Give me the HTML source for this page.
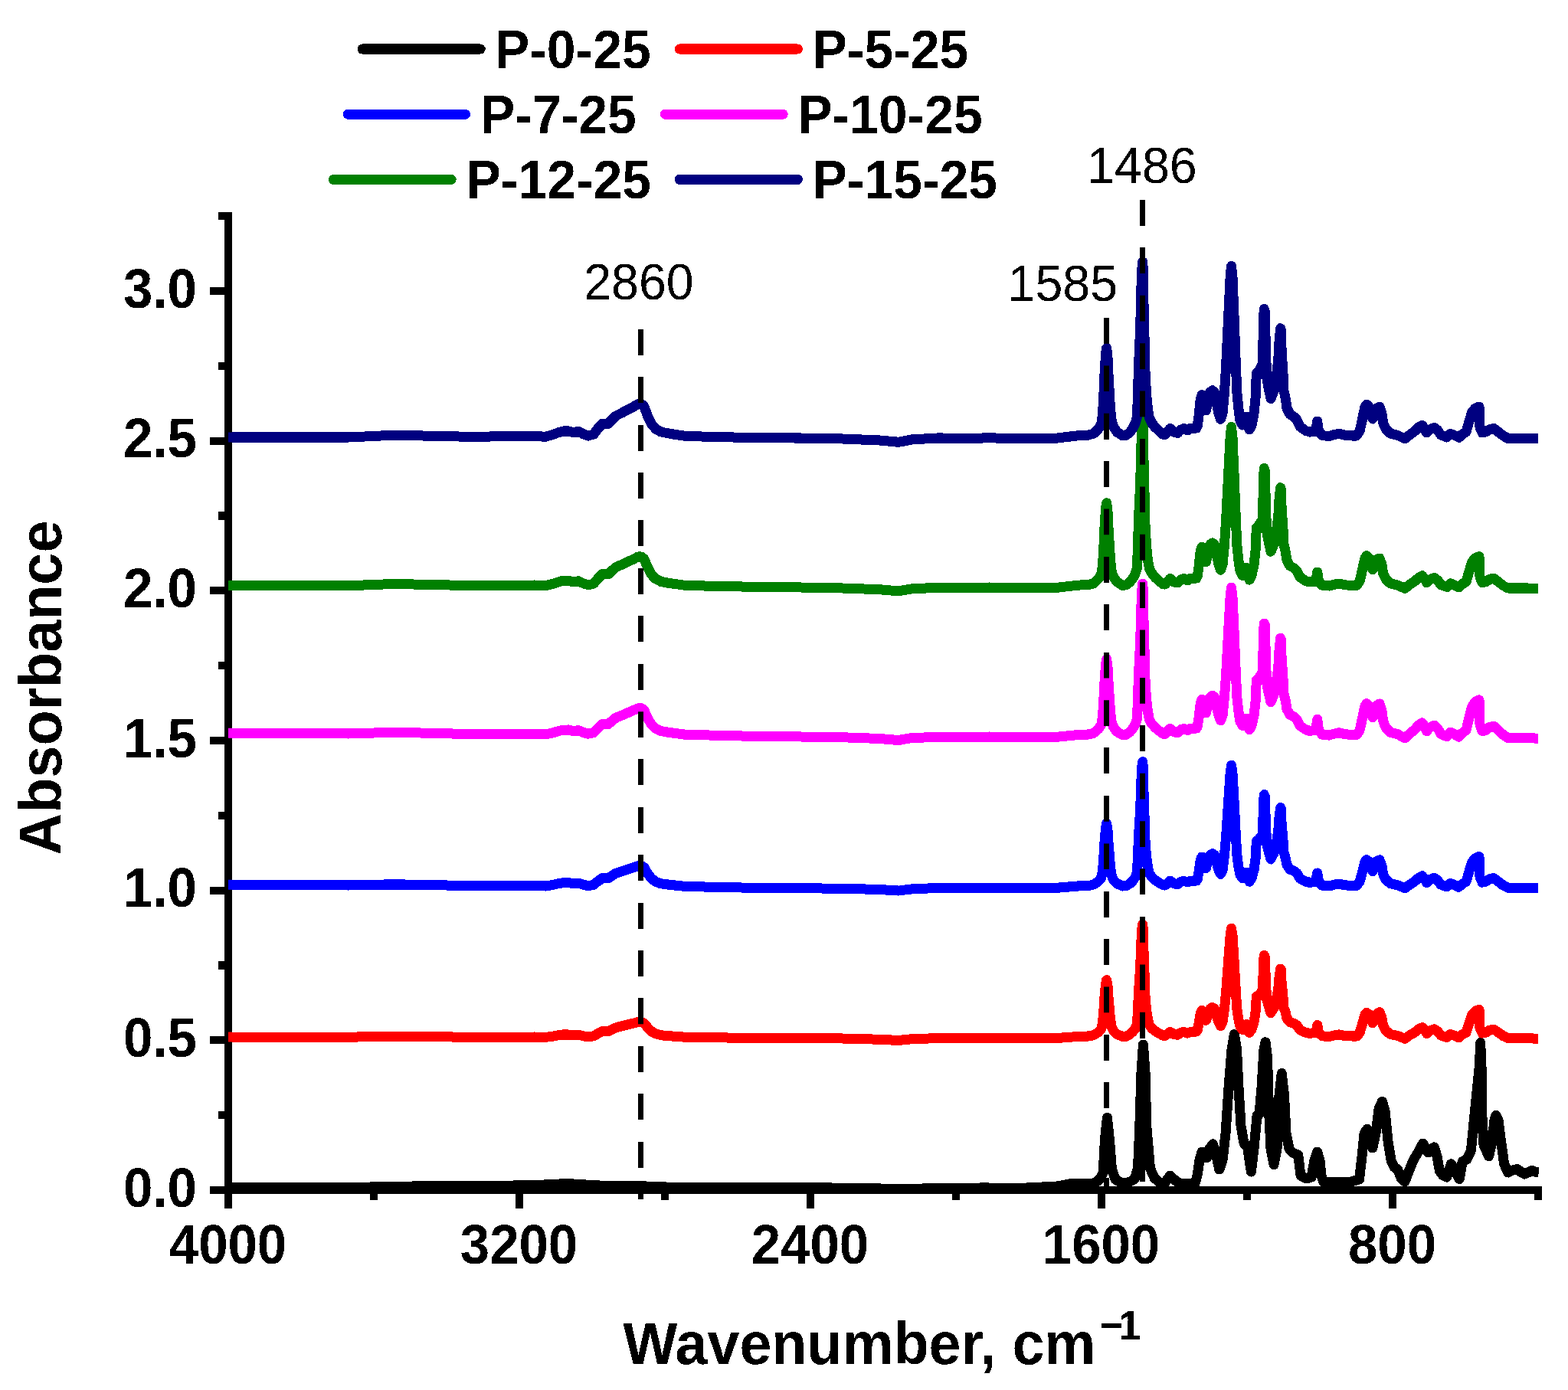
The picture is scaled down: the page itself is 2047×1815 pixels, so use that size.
<!DOCTYPE html>
<html><head><meta charset="utf-8"><title>FTIR spectra</title>
<style>html,body{margin:0;padding:0;background:#fff;}svg{display:block;}</style>
</head><body>
<svg width="2047" height="1815" viewBox="0 0 2047 1815">
<rect width="2047" height="1815" fill="#fff"/>
<defs><filter id="bin" x="0" y="0" width="2047" height="1815" filterUnits="userSpaceOnUse"><feComponentTransfer><feFuncA type="discrete" tableValues="0 1"/></feComponentTransfer></filter></defs>
<g filter="url(#bin)">
<g fill="#000">
<rect x="293" y="277" width="10" height="1301"/>
<rect x="293" y="1549" width="1720" height="10"/>
<rect x="274" y="1549.0" width="20" height="10"/>
<rect x="274" y="1353.3" width="20" height="10"/>
<rect x="274" y="1157.7" width="20" height="10"/>
<rect x="274" y="962.0" width="20" height="10"/>
<rect x="274" y="766.3" width="20" height="10"/>
<rect x="274" y="570.7" width="20" height="10"/>
<rect x="274" y="375.0" width="20" height="10"/>
<rect x="285" y="1451.2" width="9" height="10"/>
<rect x="285" y="1255.5" width="9" height="10"/>
<rect x="285" y="1059.8" width="9" height="10"/>
<rect x="285" y="864.2" width="9" height="10"/>
<rect x="285" y="668.5" width="9" height="10"/>
<rect x="285" y="472.8" width="9" height="10"/>
<rect x="285" y="277.2" width="9" height="10"/>
<rect x="293.0" y="1558" width="10" height="20"/>
<rect x="673.0" y="1558" width="10" height="20"/>
<rect x="1053.0" y="1558" width="10" height="20"/>
<rect x="1433.0" y="1558" width="10" height="20"/>
<rect x="1813.0" y="1558" width="10" height="20"/>
<rect x="483.0" y="1558" width="10" height="9"/>
<rect x="863.0" y="1558" width="10" height="9"/>
<rect x="1243.0" y="1558" width="10" height="9"/>
<rect x="1623.0" y="1558" width="10" height="9"/>
<rect x="2003.0" y="1558" width="10" height="9"/>
</g>
<g fill="none" stroke-width="13" stroke-linejoin="round" stroke-linecap="butt">
<polyline stroke="#000" points="298.0,1550.5 460.0,1550.5 560.0,1548.5 640.0,1548.5 700.0,1547.5 741.0,1545.5 780.0,1548.0 830.0,1548.5 890.0,1550.8 1070.0,1550.8 1150.0,1552.0 1172.0,1553.0 1220.0,1551.5 1280.0,1551.0 1330.0,1551.5 1380.0,1549.0 1400.0,1545.0 1410.0,1546.0 1425.0,1546.0 1432.0,1543.0 1437.0,1538.0 1440.2,1530.4 1442.5,1486.6 1445.4,1459.4 1448.3,1486.6 1451.4,1525.7 1456.0,1540.0 1465.8,1545.5 1475.0,1543.0 1481.0,1540.0 1485.5,1525.7 1487.8,1470.9 1490.0,1400.0 1492.4,1363.9 1495.0,1400.0 1496.8,1470.9 1501.5,1525.7 1507.0,1538.0 1515.0,1545.0 1521.0,1544.0 1527.6,1535.3 1534.0,1541.0 1540.0,1545.5 1560.0,1545.5 1563.0,1535.0 1566.0,1515.0 1569.0,1504.0 1572.0,1508.0 1575.3,1512.0 1579.0,1500.0 1583.2,1493.8 1587.0,1505.0 1591.8,1527.0 1596.0,1515.0 1600.0,1480.0 1604.0,1420.0 1608.0,1370.0 1611.4,1350.6 1614.5,1370.0 1617.0,1420.0 1620.0,1470.0 1624.0,1493.0 1628.6,1498.0 1633.3,1530.0 1637.0,1500.0 1641.0,1457.0 1644.0,1455.0 1647.0,1420.0 1650.0,1370.0 1652.0,1360.8 1654.5,1380.0 1656.5,1450.0 1659.0,1500.0 1663.0,1520.8 1667.0,1500.0 1670.0,1430.0 1673.2,1401.5 1676.5,1430.0 1679.0,1480.0 1683.0,1500.0 1688.0,1505.5 1694.7,1508.0 1698.0,1535.0 1705.7,1539.0 1712.0,1537.0 1716.0,1515.0 1719.7,1504.0 1723.0,1515.0 1725.0,1535.0 1727.6,1543.0 1740.0,1544.0 1760.0,1544.0 1774.5,1540.0 1778.0,1510.0 1781.0,1480.0 1784.7,1474.3 1788.0,1480.0 1791.8,1499.0 1796.0,1480.0 1800.0,1448.0 1804.3,1438.3 1808.0,1450.0 1812.0,1490.0 1816.0,1515.0 1820.0,1524.0 1824.6,1527.0 1829.0,1538.0 1834.0,1543.0 1839.0,1530.0 1845.0,1515.0 1851.0,1505.0 1857.5,1493.0 1861.0,1500.0 1864.6,1505.0 1868.0,1500.0 1872.4,1497.8 1876.0,1510.0 1879.4,1529.0 1884.0,1535.0 1888.8,1537.0 1894.3,1519.7 1900.0,1530.0 1905.3,1539.5 1909.2,1516.5 1915.0,1514.0 1920.4,1502.2 1926.6,1439.6 1931.3,1392.6 1932.7,1361.5 1934.0,1392.6 1934.8,1455.0 1937.0,1495.0 1943.6,1509.8 1948.0,1490.0 1951.0,1462.0 1953.0,1456.3 1956.0,1462.0 1959.0,1486.6 1963.7,1520.0 1968.7,1531.0 1975.0,1528.0 1981.0,1526.5 1985.0,1530.0 1990.5,1533.0 1996.0,1530.5 2000.0,1528.0 2004.0,1530.0 2008.8,1530.5"/>
<polyline stroke="#FF0000" points="298.0,1354.1 455.0,1354.3 513.0,1353.1 611.0,1354.2 698.0,1354.1 712.0,1354.4 722.0,1353.1 728.4,1351.9 735.0,1351.0 741.4,1350.9 748.0,1351.7 755.3,1351.3 762.0,1352.9 768.0,1353.9 775.0,1352.9 781.0,1349.2 786.6,1346.4 794.0,1346.6 800.0,1343.6 804.0,1341.7 812.0,1339.8 820.0,1337.8 828.0,1335.9 833.0,1334.5 837.5,1334.5 841.0,1336.1 845.0,1341.3 850.0,1346.5 856.0,1349.8 863.0,1351.7 874.0,1352.7 895.0,1354.2 968.0,1355.2 1046.0,1355.6 1100.0,1356.1 1149.0,1357.2 1172.6,1358.5 1190.0,1356.7 1227.0,1355.4 1245.0,1356.1 1292.0,1355.4 1331.0,1356.1 1380.0,1355.5 1410.0,1353.3 1420.0,1353.1 1428.0,1351.6 1434.0,1347.8 1437.5,1343.9 1438.5,1340.7 1439.5,1334.2 1440.6,1323.9 1441.6,1306.5 1442.6,1294.2 1443.6,1284.5 1444.5,1279.7 1445.2,1282.2 1446.3,1289.7 1447.3,1307.1 1448.2,1315.1 1449.4,1329.6 1450.6,1337.4 1451.3,1341.3 1453.3,1345.5 1458.0,1350.3 1465.7,1353.5 1470.0,1353.2 1475.0,1350.6 1479.0,1347.0 1482.0,1343.2 1484.6,1337.2 1485.3,1319.4 1486.4,1298.0 1487.6,1275.7 1488.5,1267.7 1489.4,1241.9 1490.5,1215.1 1491.6,1206.9 1492.6,1215.1 1493.0,1241.9 1494.1,1273.1 1495.1,1302.5 1496.8,1320.3 1498.5,1331.0 1500.3,1338.0 1503.5,1342.5 1508.0,1346.4 1514.0,1349.9 1518.0,1352.2 1521.0,1352.5 1527.5,1347.3 1533.0,1350.6 1537.5,1351.2 1541.5,1348.3 1545.5,1347.4 1550.2,1349.0 1554.0,1347.4 1558.0,1347.0 1562.0,1347.0 1563.3,1345.1 1565.4,1334.9 1566.4,1327.2 1567.5,1322.1 1569.0,1319.3 1571.0,1322.1 1574.5,1332.3 1577.5,1322.1 1580.0,1317.0 1582.7,1315.5 1585.5,1317.0 1588.0,1325.3 1591.0,1334.9 1593.5,1339.6 1596.0,1334.9 1598.4,1317.7 1600.5,1296.7 1603.7,1253.4 1606.1,1221.5 1607.5,1212.2 1609.0,1221.5 1611.0,1253.3 1613.3,1293.5 1614.8,1317.1 1617.0,1331.7 1619.0,1340.6 1622.0,1344.5 1627.0,1337.4 1631.0,1348.3 1634.0,1344.4 1637.0,1334.8 1639.0,1322.0 1640.0,1306.0 1640.5,1301.1 1643.0,1299.6 1648.5,1293.1 1649.0,1273.9 1649.6,1254.7 1650.3,1247.4 1651.4,1249.7 1651.9,1267.6 1652.9,1290.1 1653.4,1303.5 1656.0,1313.2 1659.0,1322.7 1663.0,1316.1 1667.4,1299.2 1668.9,1289.7 1670.0,1276.2 1671.0,1269.4 1671.6,1265.1 1672.5,1266.9 1672.8,1278.8 1673.8,1289.6 1675.3,1304.8 1675.8,1315.2 1677.4,1319.5 1678.4,1322.6 1680.0,1329.8 1684.0,1334.7 1689.0,1336.3 1693.0,1338.8 1697.0,1344.8 1704.8,1348.5 1710.0,1349.4 1717.5,1348.5 1718.8,1343.2 1719.7,1338.5 1720.6,1343.1 1721.5,1348.5 1726.0,1352.7 1735.0,1353.5 1742.0,1351.9 1748.0,1351.0 1755.0,1352.3 1765.0,1353.1 1771.0,1353.1 1775.0,1348.6 1778.0,1338.8 1780.0,1331.4 1782.0,1324.7 1784.0,1322.4 1787.0,1324.1 1790.0,1331.3 1792.0,1335.8 1794.0,1330.0 1797.0,1324.0 1801.0,1321.6 1804.0,1329.0 1805.6,1338.9 1809.0,1345.5 1815.0,1350.4 1825.0,1352.5 1834.0,1356.2 1840.0,1352.0 1847.0,1347.9 1852.0,1343.7 1856.7,1341.6 1860.0,1345.3 1862.5,1349.5 1866.0,1346.1 1872.4,1343.9 1877.0,1346.8 1881.0,1351.9 1888.8,1354.5 1893.5,1350.4 1898.0,1351.9 1904.5,1354.7 1909.0,1350.9 1914.0,1348.2 1918.0,1335.7 1921.7,1324.9 1926.0,1320.3 1931.0,1318.3 1931.5,1330.9 1932.0,1342.7 1935.0,1349.0 1940.0,1348.1 1944.0,1345.4 1950.0,1344.0 1956.0,1348.1 1962.4,1352.6 1968.7,1355.8 1980.0,1355.8 1995.0,1355.8 2008.0,1356.2"/>
<polyline stroke="#0000FF" points="298.0,1155.3 455.0,1156.1 513.0,1154.7 611.0,1156.5 698.0,1156.6 712.0,1157.1 722.0,1155.4 728.4,1153.8 735.0,1152.6 741.4,1152.4 748.0,1153.6 755.3,1153.0 762.0,1155.3 768.0,1156.6 775.0,1155.3 781.0,1150.3 786.6,1146.5 794.0,1146.8 800.0,1142.7 804.0,1140.2 812.0,1137.7 820.0,1135.0 828.0,1132.4 833.0,1130.5 837.5,1130.5 841.0,1132.8 845.0,1139.8 850.0,1146.8 856.0,1151.3 863.0,1153.9 874.0,1155.3 895.0,1157.5 968.0,1159.0 1046.0,1159.7 1100.0,1160.3 1149.0,1161.6 1172.6,1163.1 1190.0,1160.9 1227.0,1159.3 1245.0,1160.1 1292.0,1159.3 1331.0,1160.1 1380.0,1159.3 1410.0,1156.8 1420.0,1156.7 1428.0,1155.0 1434.0,1150.7 1437.5,1146.4 1438.5,1142.8 1439.5,1135.7 1440.6,1124.3 1441.6,1104.9 1442.6,1091.4 1443.6,1080.6 1444.5,1075.3 1445.2,1078.1 1446.3,1086.3 1447.3,1105.6 1448.2,1114.6 1449.4,1130.7 1450.6,1139.2 1451.3,1143.5 1453.3,1148.2 1458.0,1153.5 1465.7,1157.1 1470.0,1156.7 1475.0,1153.9 1479.0,1149.9 1482.0,1145.6 1484.6,1139.0 1485.3,1119.3 1486.4,1095.6 1487.6,1071.0 1488.5,1062.1 1489.4,1033.5 1490.5,1003.9 1491.6,994.8 1492.6,1003.9 1493.0,1033.5 1494.1,1068.0 1495.1,1100.6 1496.8,1120.3 1498.5,1132.1 1500.3,1139.9 1503.5,1144.9 1508.0,1149.2 1514.0,1153.1 1518.0,1155.6 1521.0,1156.0 1527.5,1150.2 1533.0,1153.8 1537.5,1154.5 1541.5,1151.3 1545.5,1150.2 1550.2,1152.0 1554.0,1150.2 1558.0,1149.9 1562.0,1149.9 1563.3,1147.7 1565.4,1136.3 1566.4,1127.8 1567.5,1122.1 1569.0,1118.9 1571.0,1122.1 1574.5,1133.5 1577.5,1122.1 1580.0,1116.4 1582.7,1114.7 1585.5,1116.4 1588.0,1125.6 1591.0,1136.3 1593.5,1141.5 1596.0,1136.3 1598.4,1117.1 1600.5,1093.6 1603.7,1045.3 1606.1,1009.7 1607.5,999.3 1609.0,1009.6 1611.0,1045.1 1613.3,1089.9 1614.8,1116.3 1617.0,1132.7 1619.0,1142.6 1622.0,1146.9 1627.0,1139.0 1631.0,1151.2 1634.0,1146.8 1637.0,1136.1 1639.0,1121.7 1640.0,1103.7 1640.5,1098.1 1643.0,1096.4 1648.5,1089.1 1649.0,1067.5 1649.6,1045.8 1650.3,1037.6 1651.4,1040.0 1651.9,1060.2 1652.9,1085.4 1653.4,1100.5 1656.0,1111.3 1659.0,1121.9 1663.0,1114.1 1667.4,1094.4 1668.9,1083.2 1670.0,1067.4 1671.0,1059.4 1671.6,1054.5 1672.5,1056.6 1672.8,1070.4 1673.8,1083.0 1675.3,1100.6 1675.8,1112.6 1677.4,1117.6 1678.4,1121.3 1680.0,1129.6 1684.0,1135.3 1689.0,1137.2 1693.0,1140.1 1697.0,1147.0 1704.8,1151.2 1710.0,1152.4 1717.5,1151.3 1718.8,1145.2 1719.7,1140.0 1720.6,1145.2 1721.5,1151.3 1726.0,1156.1 1735.0,1157.0 1742.0,1155.2 1748.0,1154.2 1755.0,1155.7 1765.0,1156.5 1771.0,1156.5 1775.0,1151.5 1778.0,1140.8 1780.0,1132.5 1782.0,1125.1 1784.0,1122.7 1787.0,1124.7 1790.0,1132.8 1792.0,1137.7 1794.0,1131.5 1797.0,1125.0 1801.0,1122.7 1804.0,1130.6 1805.6,1141.2 1809.0,1148.3 1815.0,1153.7 1825.0,1155.9 1834.0,1159.9 1840.0,1155.4 1847.0,1150.8 1852.0,1146.2 1856.7,1143.8 1860.0,1148.0 1862.5,1152.5 1866.0,1148.8 1872.4,1146.4 1877.0,1149.6 1881.0,1155.2 1888.8,1158.0 1893.5,1153.6 1898.0,1155.2 1904.5,1158.3 1909.0,1154.2 1914.0,1151.2 1918.0,1137.5 1921.7,1125.7 1926.0,1120.7 1931.0,1118.5 1931.5,1132.3 1932.0,1145.2 1935.0,1152.1 1940.0,1151.1 1944.0,1148.1 1950.0,1146.6 1956.0,1151.1 1962.4,1156.0 1968.7,1159.4 1980.0,1159.4 1995.0,1159.4 2008.0,1159.9"/>
<polyline stroke="#FF00FF" points="298.0,957.3 455.0,958.1 513.0,956.2 611.0,958.4 698.0,958.3 712.0,959.0 722.0,956.8 728.4,954.8 735.0,953.2 741.4,952.9 748.0,954.4 755.3,953.7 762.0,956.6 768.0,958.2 775.0,956.6 781.0,950.1 786.6,945.3 794.0,945.7 800.0,940.4 804.0,937.2 812.0,934.0 820.0,930.5 828.0,927.1 833.0,924.7 837.5,924.7 841.0,927.6 845.0,936.6 850.0,945.6 856.0,951.3 863.0,954.6 874.0,956.5 895.0,959.2 968.0,961.1 1046.0,961.9 1100.0,962.8 1149.0,964.5 1172.6,966.5 1190.0,963.7 1227.0,961.9 1245.0,962.9 1292.0,962.0 1331.0,963.0 1380.0,962.2 1410.0,959.2 1420.0,959.1 1428.0,957.1 1434.0,951.9 1437.5,946.7 1438.5,942.4 1439.5,933.8 1440.6,919.9 1441.6,896.6 1442.6,880.2 1443.6,867.2 1444.5,860.8 1445.2,864.2 1446.3,874.1 1447.3,897.4 1448.2,908.2 1449.4,927.7 1450.6,938.0 1451.3,943.2 1453.3,948.9 1458.0,955.3 1465.7,959.7 1470.0,959.2 1475.0,955.8 1479.0,951.0 1482.0,945.8 1484.6,937.8 1485.3,913.8 1486.4,885.0 1487.6,855.0 1488.5,844.2 1489.4,809.4 1490.5,773.3 1491.6,762.2 1492.6,773.3 1493.0,809.4 1494.1,851.4 1495.1,891.0 1496.8,915.0 1498.5,929.3 1500.3,938.8 1503.5,944.9 1508.0,950.1 1514.0,954.9 1518.0,958.0 1521.0,958.4 1527.5,951.4 1533.0,955.8 1537.5,956.7 1541.5,952.8 1545.5,951.5 1550.2,953.6 1554.0,951.5 1558.0,951.0 1562.0,951.0 1563.3,948.4 1565.4,934.5 1566.4,924.1 1567.5,917.1 1569.0,913.3 1571.0,917.1 1574.5,931.0 1577.5,917.1 1580.0,910.2 1582.7,908.2 1585.5,910.2 1588.0,921.5 1591.0,934.5 1593.5,940.9 1596.0,934.5 1598.4,911.0 1600.5,882.3 1603.7,823.2 1606.1,779.7 1607.5,766.9 1609.0,779.6 1611.0,823.0 1613.3,877.8 1614.8,910.1 1617.0,930.1 1619.0,942.3 1622.0,947.5 1627.0,937.9 1631.0,952.8 1634.0,947.5 1637.0,934.3 1639.0,916.7 1640.0,894.7 1640.5,887.9 1643.0,885.9 1648.5,876.9 1649.0,850.4 1649.6,824.0 1650.3,813.9 1651.4,816.7 1651.9,841.4 1652.9,872.2 1653.4,890.8 1656.0,903.9 1659.0,916.8 1663.0,907.1 1667.4,882.7 1668.9,868.8 1670.0,849.3 1671.0,839.3 1671.6,833.2 1672.5,835.9 1672.8,852.9 1673.8,868.5 1675.3,890.3 1675.8,905.2 1677.4,911.3 1678.4,915.9 1680.0,926.2 1684.0,933.2 1689.0,935.6 1693.0,939.1 1697.0,947.7 1704.8,952.9 1710.0,954.4 1717.5,953.1 1718.8,945.6 1719.7,939.2 1720.6,945.6 1721.5,953.1 1726.0,959.0 1735.0,960.1 1742.0,958.0 1748.0,956.7 1755.0,958.5 1765.0,959.6 1771.0,959.6 1775.0,953.6 1778.0,940.5 1780.0,930.5 1782.0,921.6 1784.0,918.6 1787.0,921.2 1790.0,930.9 1792.0,936.9 1794.0,929.4 1797.0,921.6 1801.0,918.9 1804.0,928.4 1805.6,941.2 1809.0,949.8 1815.0,956.2 1825.0,958.9 1834.0,963.9 1840.0,958.3 1847.0,952.6 1852.0,946.8 1856.7,943.8 1860.0,949.0 1862.5,954.8 1866.0,950.2 1872.4,947.2 1877.0,951.3 1881.0,958.2 1888.8,961.7 1893.5,956.2 1898.0,958.2 1904.5,962.1 1909.0,957.0 1914.0,953.4 1918.0,936.7 1921.7,922.4 1926.0,916.3 1931.0,913.8 1931.5,930.6 1932.0,946.2 1935.0,954.6 1940.0,953.4 1944.0,949.8 1950.0,948.0 1956.0,953.4 1962.4,959.4 1968.7,963.6 1980.0,963.6 1995.0,963.6 2008.0,964.2"/>
<polyline stroke="#008000" points="298.0,764.5 455.0,764.8 513.0,762.5 611.0,764.5 698.0,764.1 712.0,764.8 722.0,762.3 728.4,760.1 735.0,758.3 741.4,758.1 748.0,759.7 755.3,758.8 762.0,762.0 768.0,763.7 775.0,762.0 781.0,754.9 786.6,749.5 794.0,750.0 800.0,744.2 804.0,740.7 812.0,737.1 820.0,733.3 828.0,729.6 833.0,726.9 837.5,726.9 841.0,730.1 845.0,739.9 850.0,749.7 856.0,755.9 863.0,759.5 874.0,761.5 895.0,764.4 968.0,766.1 1046.0,766.9 1100.0,767.9 1149.0,769.7 1172.6,771.9 1190.0,768.9 1227.0,766.9 1245.0,768.0 1292.0,766.9 1331.0,768.0 1380.0,767.2 1410.0,763.9 1420.0,763.7 1428.0,761.6 1434.0,755.9 1437.5,750.3 1438.5,745.6 1439.5,736.2 1440.6,721.2 1441.6,695.8 1442.6,677.9 1443.6,663.8 1444.5,656.8 1445.2,660.5 1446.3,671.3 1447.3,696.7 1448.2,708.4 1449.4,729.6 1450.6,740.9 1451.3,746.5 1453.3,752.7 1458.0,759.7 1465.7,764.4 1470.0,763.9 1475.0,760.1 1479.0,754.9 1482.0,749.3 1484.6,740.6 1485.3,714.4 1486.4,683.1 1487.6,650.4 1488.5,638.7 1489.4,600.8 1490.5,561.6 1491.6,549.4 1492.6,561.6 1493.0,600.8 1494.1,646.5 1495.1,689.6 1496.8,715.8 1498.5,731.4 1500.3,741.7 1503.5,748.3 1508.0,754.0 1514.0,759.2 1518.0,762.5 1521.0,763.0 1527.5,755.5 1533.0,760.2 1537.5,761.1 1541.5,756.9 1545.5,755.5 1550.2,757.9 1554.0,755.5 1558.0,755.1 1562.0,755.1 1563.3,752.2 1565.4,737.2 1566.4,726.0 1567.5,718.5 1569.0,714.4 1571.0,718.5 1574.5,733.5 1577.5,718.5 1580.0,711.1 1582.7,708.9 1585.5,711.1 1588.0,723.3 1591.0,737.3 1593.5,744.2 1596.0,737.4 1598.4,712.1 1600.5,681.3 1603.7,617.8 1606.1,571.1 1607.5,557.5 1609.0,571.2 1611.0,618.0 1613.3,676.8 1614.8,711.3 1617.0,732.8 1619.0,745.9 1622.0,751.5 1627.0,741.3 1631.0,757.1 1634.0,751.5 1637.0,737.6 1639.0,719.1 1640.0,695.9 1640.5,688.8 1643.0,686.7 1648.5,677.5 1649.0,649.8 1649.6,622.1 1650.3,611.6 1651.4,614.8 1651.9,640.8 1652.9,673.2 1653.4,692.6 1656.0,706.5 1659.0,720.2 1663.0,710.5 1667.4,686.0 1668.9,672.0 1670.0,652.4 1671.0,642.5 1671.6,636.6 1672.5,639.7 1672.8,657.0 1673.8,673.0 1675.3,695.2 1675.8,710.2 1677.4,716.6 1678.4,721.3 1680.0,731.6 1684.0,738.9 1689.0,741.6 1693.0,745.3 1697.0,753.5 1704.8,758.6 1710.0,759.9 1717.5,759.0 1718.8,752.5 1719.7,746.9 1720.6,752.5 1721.5,759.0 1726.0,764.1 1735.0,765.1 1742.0,763.2 1748.0,762.0 1755.0,763.6 1765.0,764.6 1771.0,764.6 1775.0,758.9 1778.0,746.6 1780.0,737.1 1782.0,728.5 1784.0,725.7 1787.0,728.6 1790.0,738.1 1792.0,743.8 1794.0,737.2 1797.0,730.7 1801.0,728.9 1804.0,737.3 1805.6,748.6 1809.0,756.1 1815.0,761.8 1825.0,764.1 1834.0,768.4 1840.0,763.7 1847.0,758.9 1852.0,754.2 1856.7,751.7 1860.0,756.0 1862.5,760.8 1866.0,757.0 1872.4,754.5 1877.0,757.8 1881.0,763.6 1888.8,766.5 1893.5,761.9 1898.0,763.6 1904.5,766.8 1909.0,762.6 1914.0,759.6 1918.0,745.7 1921.7,733.8 1926.0,728.7 1931.0,726.6 1931.5,740.6 1932.0,753.6 1935.0,760.6 1940.0,759.6 1944.0,756.6 1950.0,755.1 1956.0,759.6 1962.4,764.6 1968.7,768.1 1980.0,768.1 1995.0,768.1 2008.0,768.6"/>
<polyline stroke="#000080" points="298.0,570.9 455.0,570.9 513.0,568.2 611.0,570.2 698.0,569.6 712.0,570.3 722.0,567.5 728.4,565.0 735.0,563.0 741.4,562.7 748.0,564.5 755.3,563.5 762.0,567.0 768.0,569.0 775.0,567.0 781.0,559.0 786.6,553.0 794.0,553.5 800.0,547.0 804.0,543.0 812.0,539.0 820.0,534.7 828.0,530.5 833.0,527.5 837.5,527.5 841.0,531.0 845.0,542.0 850.0,553.0 856.0,560.0 863.0,564.0 874.0,566.2 895.0,569.4 968.0,571.2 1046.0,572.0 1100.0,573.0 1149.0,575.0 1172.6,577.3 1190.0,574.0 1227.0,571.8 1245.0,573.0 1292.0,571.8 1331.0,573.0 1380.0,572.0 1410.0,568.5 1420.0,568.3 1428.0,566.0 1434.0,560.0 1437.5,554.0 1438.5,549.0 1439.5,539.0 1440.6,523.0 1441.6,496.0 1442.6,477.0 1443.6,462.0 1444.5,454.6 1445.2,458.5 1446.3,470.0 1447.3,497.0 1448.2,509.5 1449.4,532.0 1450.6,544.0 1451.3,550.0 1453.3,556.6 1458.0,564.0 1465.7,569.0 1470.0,568.5 1475.0,564.5 1479.0,559.0 1482.0,553.0 1484.6,543.8 1485.3,516.2 1486.4,483.1 1487.6,448.6 1488.5,436.2 1489.4,396.2 1490.5,354.8 1491.6,342.0 1492.6,354.8 1493.0,396.2 1494.1,444.5 1495.1,490.0 1496.8,517.6 1498.5,534.1 1500.3,545.0 1503.5,552.0 1508.0,558.0 1514.0,563.5 1518.0,567.0 1521.0,567.5 1527.5,559.5 1533.0,564.5 1537.5,565.5 1541.5,561.0 1545.5,559.5 1550.2,562.0 1554.0,559.5 1558.0,559.0 1562.0,559.0 1563.3,556.0 1565.4,540.0 1566.4,528.0 1567.5,520.0 1569.0,515.6 1571.0,520.0 1574.5,536.0 1577.5,520.0 1580.0,512.0 1582.7,509.7 1585.5,512.0 1588.0,525.0 1591.0,540.0 1593.5,547.3 1596.0,540.0 1598.4,513.0 1600.5,480.0 1603.7,412.0 1606.1,362.0 1607.5,347.4 1609.0,362.0 1611.0,412.0 1613.3,475.0 1614.8,512.0 1617.0,535.0 1619.0,549.0 1622.0,555.0 1627.0,544.0 1631.0,561.0 1634.0,555.0 1637.0,540.0 1639.0,520.0 1640.0,495.0 1640.5,487.3 1643.0,485.0 1648.5,475.0 1649.0,445.0 1649.6,415.0 1650.3,403.6 1651.4,407.0 1651.9,435.0 1652.9,470.0 1653.4,491.0 1656.0,506.0 1659.0,520.7 1663.0,510.0 1667.4,483.0 1668.9,467.6 1670.0,446.0 1671.0,435.0 1671.6,428.6 1672.5,432.0 1672.8,451.0 1673.8,468.6 1675.3,493.0 1675.8,509.4 1677.4,516.5 1678.4,521.6 1680.0,533.0 1684.0,541.0 1689.0,544.0 1693.0,548.0 1697.0,557.0 1704.8,562.5 1710.0,564.0 1717.5,563.0 1718.8,556.0 1719.7,550.0 1720.6,556.0 1721.5,563.0 1726.0,568.5 1735.0,569.6 1742.0,567.5 1748.0,566.3 1755.0,568.0 1765.0,569.0 1771.0,569.0 1775.0,563.0 1778.0,550.0 1780.0,540.0 1782.0,531.0 1784.0,528.0 1787.0,531.0 1790.0,541.0 1792.0,547.0 1794.0,540.0 1797.0,533.0 1801.0,531.0 1804.0,540.0 1805.6,552.0 1809.0,560.0 1815.0,566.0 1825.0,568.5 1834.0,573.0 1840.0,568.0 1847.0,563.0 1852.0,558.0 1856.7,555.4 1860.0,560.0 1862.5,565.0 1866.0,561.0 1872.4,558.5 1877.0,562.0 1881.0,568.0 1888.8,571.0 1893.5,566.3 1898.0,568.0 1904.5,571.3 1909.0,567.0 1914.0,564.0 1918.0,550.0 1921.7,538.0 1926.0,533.0 1931.0,531.0 1931.5,545.0 1932.0,558.0 1935.0,565.0 1940.0,564.0 1944.0,561.0 1950.0,559.5 1956.0,564.0 1962.4,569.0 1968.7,572.5 1980.0,572.5 1995.0,572.5 2008.0,573.0"/>
</g>
<g stroke="#000" stroke-width="7" stroke-dasharray="33.7 28.7" fill="none">
<line x1="836.5" y1="430" x2="836.5" y2="1565.5"/>
<line x1="1444.5" y1="415" x2="1444.5" y2="1549"/>
<line x1="1491.5" y1="261" x2="1491.5" y2="1543"/>
</g>
<text font-family="'Liberation Sans', Arial, sans-serif" font-weight="bold" font-size="69" text-anchor="end" transform="translate(256.90,1575.60) scale(1,1.04)">0.0</text>
<text font-family="'Liberation Sans', Arial, sans-serif" font-weight="bold" font-size="69" text-anchor="end" transform="translate(256.90,1379.93) scale(1,1.04)">0.5</text>
<text font-family="'Liberation Sans', Arial, sans-serif" font-weight="bold" font-size="69" text-anchor="end" transform="translate(256.90,1184.27) scale(1,1.04)">1.0</text>
<text font-family="'Liberation Sans', Arial, sans-serif" font-weight="bold" font-size="69" text-anchor="end" transform="translate(256.90,988.61) scale(1,1.04)">1.5</text>
<text font-family="'Liberation Sans', Arial, sans-serif" font-weight="bold" font-size="69" text-anchor="end" transform="translate(256.90,792.94) scale(1,1.04)">2.0</text>
<text font-family="'Liberation Sans', Arial, sans-serif" font-weight="bold" font-size="69" text-anchor="end" transform="translate(256.90,597.28) scale(1,1.04)">2.5</text>
<text font-family="'Liberation Sans', Arial, sans-serif" font-weight="bold" font-size="69" text-anchor="end" transform="translate(256.90,401.61) scale(1,1.04)">3.0</text>
<text font-family="'Liberation Sans', Arial, sans-serif" font-weight="bold" font-size="69" text-anchor="middle" transform="translate(297.50,1650.00) scale(1,1.04)">4000</text>
<text font-family="'Liberation Sans', Arial, sans-serif" font-weight="bold" font-size="69" text-anchor="middle" transform="translate(677.50,1650.00) scale(1,1.04)">3200</text>
<text font-family="'Liberation Sans', Arial, sans-serif" font-weight="bold" font-size="69" text-anchor="middle" transform="translate(1057.50,1650.00) scale(1,1.04)">2400</text>
<text font-family="'Liberation Sans', Arial, sans-serif" font-weight="bold" font-size="69" text-anchor="middle" transform="translate(1437.50,1650.00) scale(1,1.04)">1600</text>
<text font-family="'Liberation Sans', Arial, sans-serif" font-weight="bold" font-size="69" text-anchor="middle" transform="translate(1817.50,1650.00) scale(1,1.04)">800</text>
<text font-family="'Liberation Sans', Arial, sans-serif" font-weight="bold" font-size="75.6" text-anchor="middle" transform="translate(79.50,898.00) rotate(-90) scale(1,1.04)">Absorbance</text>
<text font-family="'Liberation Sans', Arial, sans-serif" font-weight="bold" font-size="75.4" transform="translate(813.20,1780.80) scale(1,1.03)">Wavenumber, cm</text>
<text font-family="'Liberation Sans', Arial, sans-serif" font-weight="bold" font-size="51.4" transform="translate(1436.00,1748.70) scale(1,1.04)">−</text>
<text font-family="'Liberation Sans', Arial, sans-serif" font-weight="bold" font-size="51.4" transform="translate(1460.60,1748.70) scale(1,1.04)">1</text>
<text font-family="'Liberation Sans', Arial, sans-serif" font-size="64.5" text-anchor="middle" transform="translate(834.00,391.00) scale(1,1.03)">2860</text>
<text font-family="'Liberation Sans', Arial, sans-serif" font-size="64.5" text-anchor="middle" transform="translate(1387.30,393.30) scale(1,1.03)">1585</text>
<text font-family="'Liberation Sans', Arial, sans-serif" font-size="64.5" text-anchor="middle" transform="translate(1491.00,239.00) scale(1,1.03)">1486</text>
<g stroke-width="13" stroke-linecap="round">
<line x1="473.0" y1="64.05" x2="627.2" y2="64.05" stroke="#000000"/>
<line x1="887.2" y1="64.05" x2="1041.4" y2="64.05" stroke="#FF0000"/>
<line x1="454.2" y1="149.15" x2="607.5" y2="149.15" stroke="#0000FF"/>
<line x1="868.4" y1="149.15" x2="1022.0999999999999" y2="149.15" stroke="#FF00FF"/>
<line x1="435.4" y1="234.3" x2="589.2" y2="234.3" stroke="#008000"/>
<line x1="887.2" y1="234.3" x2="1041.4" y2="234.3" stroke="#000080"/>
</g>
<text font-family="'Liberation Sans', Arial, sans-serif" font-weight="bold" font-size="67.9" transform="translate(645.90,89.05) scale(1,1.028)">P-0-25</text>
<text font-family="'Liberation Sans', Arial, sans-serif" font-weight="bold" font-size="67.9" transform="translate(1060.50,89.05) scale(1,1.028)">P-5-25</text>
<text font-family="'Liberation Sans', Arial, sans-serif" font-weight="bold" font-size="67.9" transform="translate(627.00,174.15) scale(1,1.028)">P-7-25</text>
<text font-family="'Liberation Sans', Arial, sans-serif" font-weight="bold" font-size="67.9" transform="translate(1041.20,174.15) scale(1,1.028)">P-10-25</text>
<text font-family="'Liberation Sans', Arial, sans-serif" font-weight="bold" font-size="67.9" transform="translate(608.50,259.30) scale(1,1.028)">P-12-25</text>
<text font-family="'Liberation Sans', Arial, sans-serif" font-weight="bold" font-size="67.9" transform="translate(1060.50,259.30) scale(1,1.028)">P-15-25</text>
</g>
</svg>
</body></html>
